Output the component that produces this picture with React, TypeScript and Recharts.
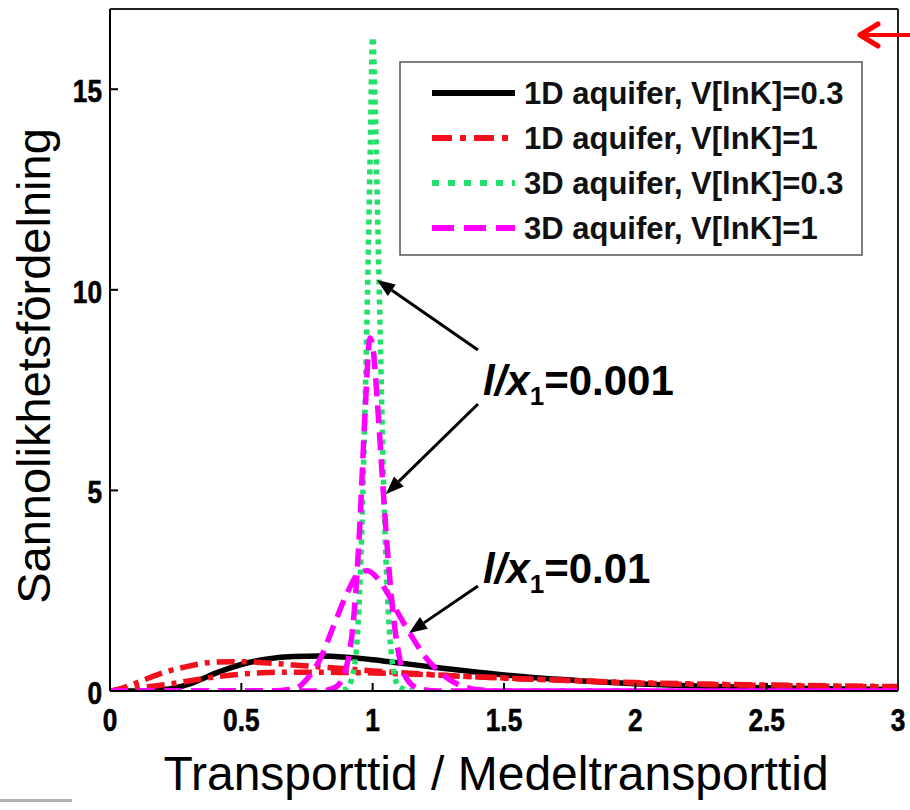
import React from "react";
import { LineChart, Line, XAxis, YAxis } from "recharts";

// ---- axes ----
const xTicks = [0, 0.5, 1, 1.5, 2, 2.5, 3];
const yTicks = [0, 5, 10, 15];

// ---- 1D aquifer, V[lnK]=0.3 (black solid) ----
const blackX = [0, 0.1, 0.2, 0.25, 0.3, 0.35, 0.4, 0.45, 0.5, 0.55, 0.6, 0.7, 0.8, 0.9, 1.0, 1.1, 1.2, 1.3, 1.4, 1.5, 1.6, 1.8, 2.0, 2.2, 2.5, 2.8, 3.0];
const blackY = [0, 0, 0.03, 0.08, 0.17, 0.3, 0.44, 0.56, 0.66, 0.74, 0.8, 0.86, 0.87, 0.84, 0.78, 0.7, 0.62, 0.54, 0.47, 0.4, 0.34, 0.25, 0.18, 0.13, 0.08, 0.05, 0.04];

// ---- 1D aquifer, V[lnK]=1 (red dash-dot), two l/x1 values ----
const redAX = [0, 0.05, 0.1, 0.15, 0.2, 0.3, 0.4, 0.5, 0.6, 0.7, 0.8, 0.9, 1.0, 1.2, 1.4, 1.6, 1.8, 2.0, 2.3, 2.6, 3.0];
const redAY = [0, 0.08, 0.2, 0.33, 0.45, 0.62, 0.72, 0.73, 0.7, 0.65, 0.6, 0.55, 0.5, 0.42, 0.35, 0.3, 0.25, 0.21, 0.17, 0.14, 0.11];
const redBX = [0, 0.2, 0.4, 0.5, 0.6, 0.7, 0.8, 0.9, 1.0, 1.1, 1.2, 1.3, 1.5, 1.8, 2.0, 2.5, 3.0];
const redBY = [0, 0.15, 0.35, 0.42, 0.46, 0.47, 0.47, 0.46, 0.45, 0.43, 0.41, 0.38, 0.32, 0.25, 0.2, 0.14, 0.1];

// ---- 3D aquifer, V[lnK]=0.3 (green dotted) ----
const greenX = [0.85, 0.9, 0.92, 0.94, 0.95, 0.96, 0.97, 0.98, 0.99, 1.0, 1.01, 1.02, 1.03, 1.04, 1.05, 1.06, 1.08, 1.1, 1.15];
const greenY = [0, 0.05, 0.3, 1.2, 2.4, 4.3, 6.8, 9.8, 13.2, 16.3, 14.5, 11.5, 8.5, 5.6, 3.4, 1.9, 0.5, 0.1, 0];

// ---- 3D aquifer, V[lnK]=1 (magenta dashed), l/x1=0.001 and 0.01 ----
const magAX = [0, 0.8, 0.86, 0.9, 0.93, 0.95, 0.97, 0.99, 1.0, 1.02, 1.04, 1.06, 1.08, 1.1, 1.13, 1.18, 1.25, 3.0];
const magAY = [0, 0, 0.1, 0.6, 2, 4, 6.8, 8.8, 8.6, 7, 5, 3.2, 1.8, 0.9, 0.3, 0.05, 0, 0];
const magBX = [0, 0.6, 0.7, 0.75, 0.8, 0.85, 0.9, 0.95, 0.98, 1.02, 1.06, 1.1, 1.15, 1.2, 1.25, 1.3, 1.35, 1.4, 1.5, 3.0];
const magBY = [0, 0, 0.05, 0.3, 0.8, 1.6, 2.4, 2.95, 3.0, 2.8, 2.4, 1.9, 1.35, 0.85, 0.5, 0.25, 0.1, 0.03, 0, 0];

const toPoints = (xs: number[], ys: number[]) => xs.map((x, i) => ({ x, y: ys[i] }));

const FONT = "'Liberation Sans', Arial, Helvetica, sans-serif";

const BLACK = "#000000";
const RED = "#f2101c";
const GREEN = "#22e06a";
const MAGENTA = "#ff00ff";

// every series shares the same domains; the top/right ids are only there so the
// mirrored frame axes get drawn
const series = [
  { key: "black", data: toPoints(blackX, blackY), color: BLACK, dash: undefined, xId: 0, yId: 0 },
  { key: "redA", data: toPoints(redAX, redAY), color: RED, dash: "18 7 5 7", xId: 0, yId: 0 },
  { key: "redB", data: toPoints(redBX, redBY), color: RED, dash: "18 7 5 7", xId: "top", yId: "right" },
  { key: "green", data: toPoints(greenX, greenY), color: GREEN, dash: "5 5", xId: 0, yId: 0 },
  { key: "magA", data: toPoints(magAX, magAY), color: MAGENTA, dash: "18 9", xId: 0, yId: 0 },
  { key: "magB", data: toPoints(magBX, magBY), color: MAGENTA, dash: "18 9", xId: 0, yId: 0 },
];

const legendItems = [
  { label: "1D aquifer, V[lnK]=0.3", color: BLACK, dash: undefined },
  { label: "1D aquifer, V[lnK]=1", color: RED, dash: "20 8 6 8" },
  { label: "3D aquifer, V[lnK]=0.3", color: GREEN, dash: "7 9" },
  { label: "3D aquifer, V[lnK]=1", color: MAGENTA, dash: "22 10" },
];

const renderXTick = (props: any) => {
  const { x, y, payload } = props;
  return (
    <text
      key={`xt-${payload.value}`}
      x={x}
      y={y + 40}
      textAnchor="middle"
      fontFamily={FONT}
      fontWeight="bold"
      fontSize={32}
      fill="#000"
      stroke="#000"
      strokeWidth={0.6}
      transform={`translate(${x * 0.18},0) scale(0.82,1)`}
    >
      {String(payload.value)}
    </text>
  );
};

const renderYTick = (props: any) => {
  const { x, y, payload } = props;
  const px = x - 8;
  return (
    <text
      key={`yt-${payload.value}`}
      x={px}
      y={y + 13}
      textAnchor="end"
      fontFamily={FONT}
      fontWeight="bold"
      fontSize={32}
      fill="#000"
      stroke="#000"
      strokeWidth={0.6}
      transform={`translate(${px * 0.18},0) scale(0.82,1)`}
    >
      {String(payload.value)}
    </text>
  );
};

const Arrow = ({ x1, y1, x2, y2, color = "#000" }: any) => {
  const ang = Math.atan2(y2 - y1, x2 - x1);
  const L = 18;
  const W = 7;
  const bx = x2 - L * Math.cos(ang);
  const by = y2 - L * Math.sin(ang);
  const px = -Math.sin(ang) * W;
  const py = Math.cos(ang) * W;
  return (
    <g>
      <line x1={x1} y1={y1} x2={bx} y2={by} stroke={color} strokeWidth={3} />
      <polygon points={`${x2},${y2} ${bx + px},${by + py} ${bx - px},${by - py}`} fill={color} />
    </g>
  );
};

const Annotation = ({ x, y, value }: any) => (
  <text x={x} y={y} fontFamily={FONT} fontWeight="bold" fontSize={42} fill="#000">
    <tspan fontStyle="italic">l/x</tspan>
    <tspan fontSize={26} dy={10}>1</tspan>
    <tspan dy={-10}>={value}</tspan>
  </text>
);

export default function App() {
  return (
    <div style={{ position: "absolute", left: 0, top: 0, width: 910, height: 810, background: "#fff" }}>
      <LineChart width={910} height={810} margin={{ top: 8, right: 11, bottom: 0, left: 0 }}>
        <XAxis
          dataKey="x"
          type="number"
          domain={[0, 3]}
          ticks={xTicks}
          allowDataOverflow
          height={119}
          tickSize={-8}
          tickMargin={8}
          axisLine={{ stroke: "#000", strokeWidth: 2 }}
          tickLine={{ stroke: "#000", strokeWidth: 2 }}
          tick={renderXTick}
        />
        <XAxis
          xAxisId="top"
          dataKey="x"
          type="number"
          orientation="top"
          domain={[0, 3]}
          ticks={xTicks}
          allowDataOverflow
          height={1}
          tickSize={-8}
          axisLine={{ stroke: "#222", strokeWidth: 2 }}
          tickLine={{ stroke: "#222", strokeWidth: 2 }}
          tick={false}
        />
        <YAxis
          type="number"
          domain={[0, 17]}
          ticks={yTicks}
          allowDataOverflow
          width={110}
          tickSize={-8}
          tickMargin={8}
          axisLine={{ stroke: "#000", strokeWidth: 2 }}
          tickLine={{ stroke: "#000", strokeWidth: 2 }}
          tick={renderYTick}
        />
        <YAxis
          yAxisId="right"
          orientation="right"
          type="number"
          domain={[0, 17]}
          ticks={yTicks}
          allowDataOverflow
          width={1}
          tickSize={-8}
          axisLine={{ stroke: "#222", strokeWidth: 2 }}
          tickLine={{ stroke: "#222", strokeWidth: 2 }}
          tick={false}
        />
        {series.map((s) => (
          <Line
            key={s.key}
            xAxisId={s.xId}
            yAxisId={s.yId}
            data={s.data}
            dataKey="y"
            type="monotone"
            stroke={s.color}
            strokeWidth={5.5}
            strokeDasharray={s.dash}
            dot={false}
            activeDot={false}
            isAnimationActive={false}
          />
        ))}
      </LineChart>

      <svg
        width={910}
        height={810}
        style={{ position: "absolute", left: 0, top: 0, pointerEvents: "none" }}
      >
        {/* legend */}
        <rect x={400} y={62} width={462} height={193} fill="#fff" stroke="#555" strokeWidth={1.5} />
        {legendItems.map((it, i) => {
          const cy = 93 + i * 45;
          return (
            <g key={it.label}>
              <line x1={432} y1={cy} x2={515} y2={cy} stroke={it.color} strokeWidth={6} strokeDasharray={it.dash} />
              <text x={524} y={cy + 11} fontFamily={FONT} fontWeight="bold" fontSize={31} fill="#111">
                {it.label}
              </text>
            </g>
          );
        })}

        {/* annotations */}
        <Annotation x={483} y={395} value="0.001" />
        <Annotation x={483} y={583} value="0.01" />
        <Arrow x1={478} y1={350} x2={377} y2={280} />
        <Arrow x1={478} y1={404} x2={386} y2={494} />
        <Arrow x1={478} y1={586} x2={409} y2={633} />

        {/* red slide arrow */}
        <line x1={862} y1={35} x2={912} y2={35} stroke="#ff0000" strokeWidth={4} />
        <polyline points="878,24 860,35 878,46" fill="none" stroke="#ff0000" strokeWidth={5} strokeLinecap="round" strokeLinejoin="round" />

        {/* axis titles */}
        <text x={496} y={790} textAnchor="middle" fontFamily={FONT} fontSize={48} fill="#000">
          Transporttid / Medeltransporttid
        </text>
        <text
          transform="translate(50,366) rotate(-90)"
          textAnchor="middle"
          fontFamily={FONT}
          fontSize={47}
          fill="#000"
        >
          Sannolikhetsfördelning
        </text>

        {/* slide divider */}
        <rect x={0} y={799} width={72} height={3} fill="#b0b0b0" />
      </svg>
    </div>
  );
}
